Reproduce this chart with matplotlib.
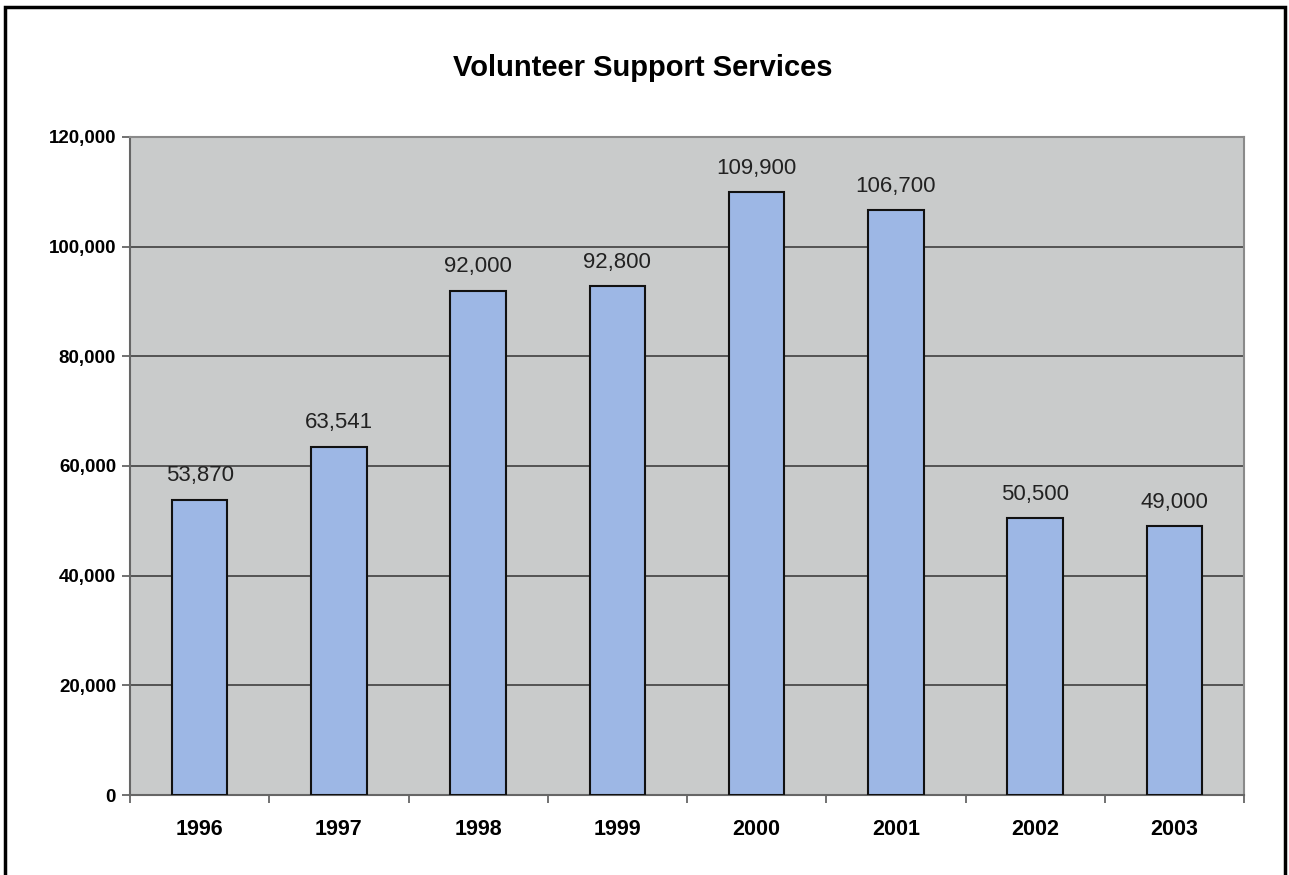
import matplotlib
matplotlib.use("Agg")
import matplotlib.pyplot as plt
from matplotlib.patches import Rectangle
from matplotlib.ticker import FuncFormatter, FixedLocator, NullFormatter

plt.rcParams['font.family'] = ['Liberation Sans', 'DejaVu Sans']

years = ["1996", "1997", "1998", "1999", "2000", "2001", "2002", "2003"]
volunteers = [53870, 63541, 92000, 92800, 109900, 106700, 50500, 49000]
value_labels = ["53,870", "63,541", "92,000", "92,800", "109,900", "106,700", "50,500", "49,000"]

W, H = 1289, 875
fig = plt.figure(figsize=(W / 100, H / 100), dpi=100)
fig.patch.set_facecolor("white")

# outer frame around the chart (bottom edge runs off the page)
fig.patches.append(Rectangle((5 / W, -0.05), (1285 - 5) / W, 1.05 - 7 / H,
                             transform=fig.transFigure, fill=False,
                             edgecolor="black", linewidth=2.5, clip_on=False))

ax = fig.add_axes([130 / W, 1 - 795 / H, (1244 - 130) / W, (795 - 137) / H])
ax.set_facecolor("#c9cbcb")

x = list(range(len(years)))
ax.bar(x, volunteers, width=0.4, color="#9db7e5", edgecolor="#111111",
       linewidth=1.5, zorder=3)

for xi, v, lab in zip(x, volunteers, value_labels):
    ax.text(xi, v + 2400, lab, ha="center", va="bottom", fontsize=16,
            color="#222222", zorder=4)

ax.set_xlim(-0.5, len(years) - 0.5)
ax.set_ylim(0, 120000)
ax.set_yticks(range(0, 120001, 20000))
ax.yaxis.set_major_formatter(FuncFormatter(lambda v, p: f"{int(v):,}"))
ax.yaxis.grid(True, color="#4a4a4a", linewidth=1.3, zorder=1)
ax.set_axisbelow(True)

# category labels at centres, tick marks at category boundaries
ax.set_xticks(x)
ax.set_xticklabels(years, fontsize=15.5, fontweight="bold")
ax.tick_params(axis="x", which="major", length=0, pad=17)
ax.xaxis.set_minor_locator(FixedLocator([i - 0.5 for i in range(len(years) + 1)]))
ax.xaxis.set_minor_formatter(NullFormatter())
ax.tick_params(axis="x", which="minor", length=6, width=1.3, color="#666666")
ax.tick_params(axis="y", length=6, width=1.3, color="#666666", labelsize=13.5, pad=4)
for lab in ax.get_yticklabels():
    lab.set_fontweight("bold")

for side in ["top", "right"]:
    ax.spines[side].set_color("#8a8a8a")
    ax.spines[side].set_linewidth(1.5)
for side in ["left", "bottom"]:
    ax.spines[side].set_color("#666666")
    ax.spines[side].set_linewidth(1.5)

fig.text(643 / W, 1 - 68 / H, "Volunteer Support Services", ha="center",
         va="center", fontsize=21, fontweight="bold")

fig.savefig("out.png", dpi=100, facecolor="white")
